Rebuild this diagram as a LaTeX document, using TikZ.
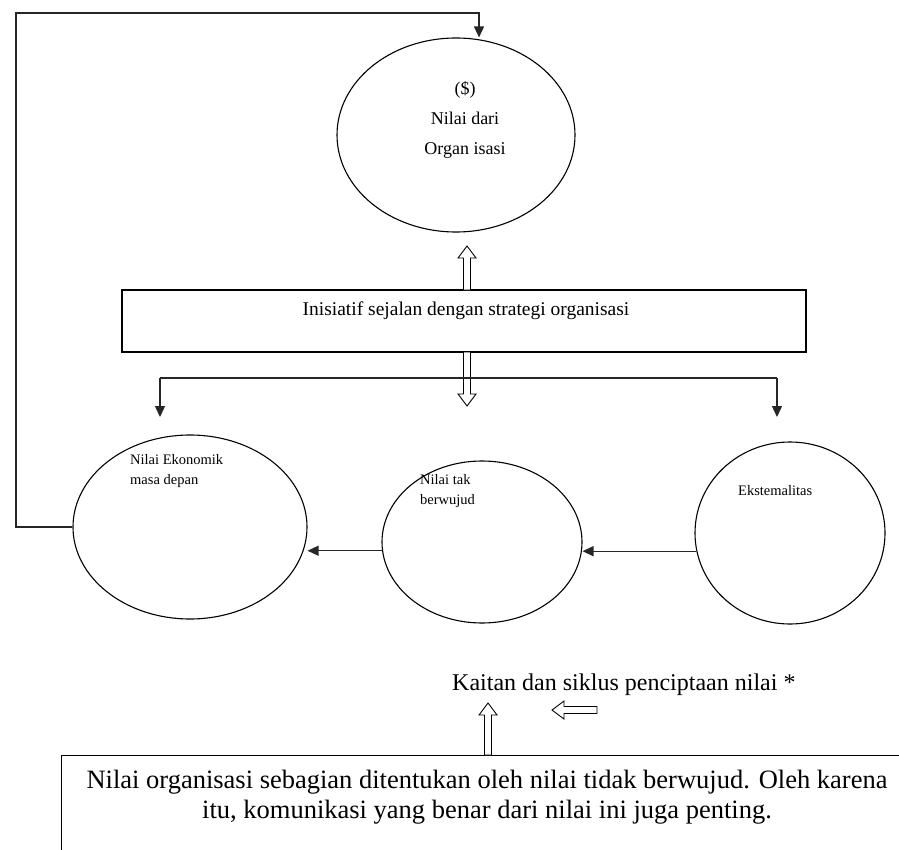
\documentclass[tikz,border=0pt]{standalone}
\usepackage{fontspec}
\setmainfont{Liberation Serif}
\usetikzlibrary{arrows.meta,shapes.geometric}
% hollow block arrow: start point, direction (degrees), length
\newcommand{\hollowarr}[3]{%
  \begin{scope}[shift={(#1)},rotate=#2]
    \draw[line width=0.9pt,fill=white] (0,-3.5) -- (#3-12,-3.5) -- (#3-12,-9)
      -- (#3,0) -- (#3-12,9) -- (#3-12,3.5) -- (0,3.5) -- cycle;
  \end{scope}}
\begin{document}
\begin{tikzpicture}[x=1pt,y=-1pt,
  conn/.style={line width=1.4pt,draw=black!85},
  arr/.style={conn,-{Triangle[length=11pt,width=10pt]}},
  oval/.style={ellipse,draw,line width=1.1pt,inner sep=0pt},
  etext/.style={font=\fontsize{14.5}{20}\selectfont,align=left,anchor=north west,inner sep=0pt},
  ctext/.style={font=\fontsize{18}{30}\selectfont,align=center,inner sep=0pt},
  bartext/.style={font=\fontsize{19.5}{24}\selectfont,inner sep=0pt},
  captext/.style={font=\fontsize{24}{30}\selectfont,inner sep=0pt},
  notetext/.style={font=\fontsize{26.5}{30}\selectfont,inner sep=0pt}]
\useasboundingbox (0,0) rectangle (899,850);
\clip (0,0) rectangle (899,850);

% value of the organisation
\node[oval,minimum width=238,minimum height=194] (top) at (456,135) {};
\node[ctext] (toptxt) at (465,120) {(\$)\\Nilai dari\\Organ isasi};

% initiative bar
\node[draw,line width=1.1pt,minimum width=684,minimum height=62,inner sep=0pt] (bar) at (464,321) {};
\node[bartext] (bartxt) at (466,311) {Inisiatif sejalan dengan strategi organisasi};

% the three value ellipses
\node[oval,minimum width=234,minimum height=184] (econ) at (190,527) {};
\node[oval,minimum width=200,minimum height=162] (intan) at (482,542) {};
\node[oval,minimum width=190,minimum height=182] (ext) at (790,533) {};
\node[etext] (econtxt) at (130,454) {Nilai Ekonomik\\masa depan};
\node[etext] (intantxt) at (420,474) {Nilai tak\\berwujud};
\node[etext] (exttxt) at (738,485) {Ekstemalitas};

% hollow arrows around the bar
\coordinate (upS) at (467,290);
\coordinate (dnS) at (467,352);
\hollowarr{upS}{90}{44}
\hollowarr{dnS}{270}{54}

% branching to the ellipses
\coordinate (bl) at (160,378);
\coordinate (br) at (777,378);
\coordinate (blT) at (160,417);
\coordinate (brT) at (777,417);
\draw[conn] (bl) -- (br);
\draw[arr] (bl) -- (blT);
\draw[arr] (br) -- (brT);

% chain between the ellipses
\draw[arr] (intan.185.7) -- (intan.185.7 -| econ.east);
\draw[arr] (ext.191.5) -- (ext.191.5 -| intan.east);

% feedback loop back to the top
\coordinate (lp1) at (16,527);
\coordinate (lp2) at (16,13);
\coordinate (lp3) at (479,13);
\draw[arr] (econ.west) -- (lp1) -- (lp2) -- (lp3) -- (lp3 |- top.north);

% caption and note
\node[captext,anchor=west] (cap) at (452,685) {Kaitan dan siklus penciptaan nilai *};
\coordinate (capA) at (597,710);
\hollowarr{capA}{180}{45}
\node[draw,line width=1.1pt,anchor=north west,minimum width=900,minimum height=150] (note) at (61,755) {};
\coordinate (noteA) at (488,755);
\hollowarr{noteA}{90}{52}
\node[notetext] (note1) at (487,782) {Nilai organisasi sebagian ditentukan oleh nilai tidak berwujud. Oleh karena};
\node[notetext] (note2) at (487,812) {itu, komunikasi yang benar dari nilai ini juga penting.};
\end{tikzpicture}
\end{document}
